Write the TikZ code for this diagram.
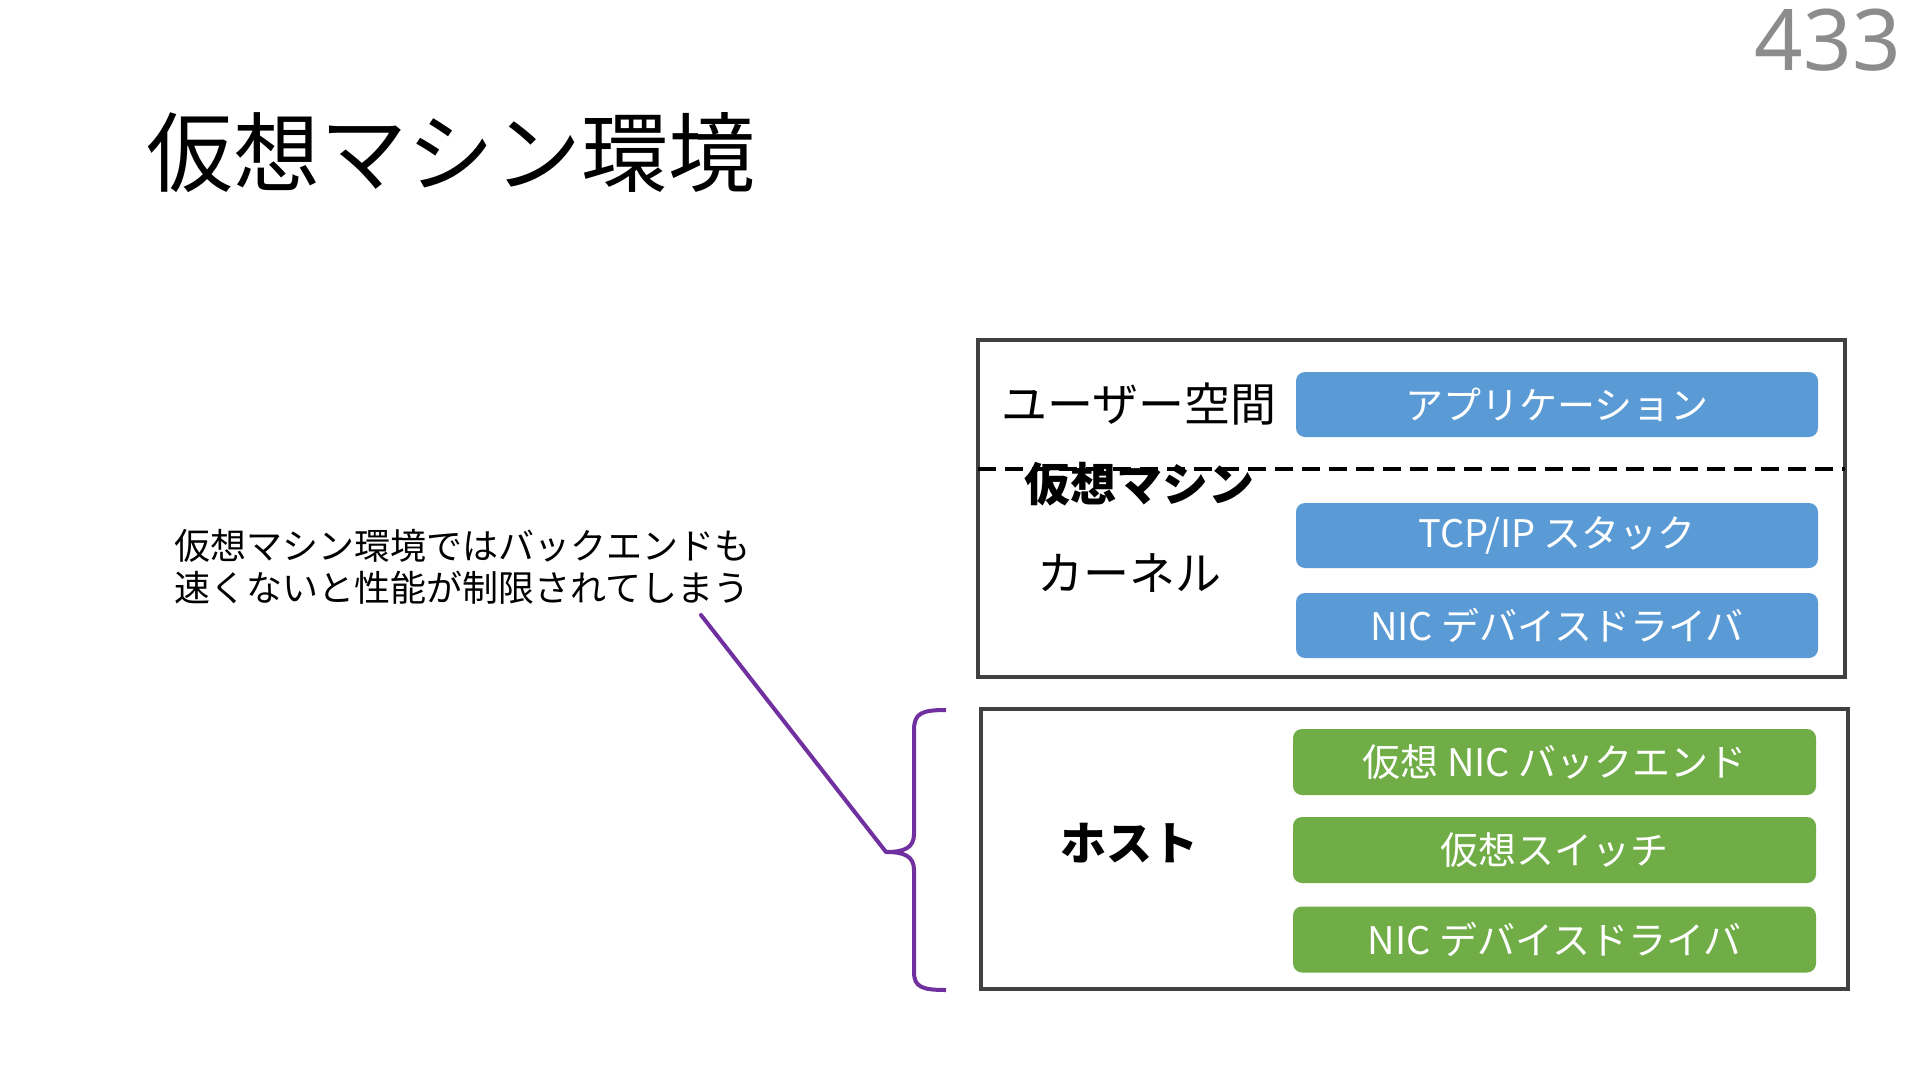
\documentclass[tikz,border=0pt]{standalone}
\usepackage{fontspec}
\setmainfont{Noto Sans CJK JP}
\newfontfamily\numfont{Noto Sans}
\definecolor{boxgray}{HTML}{404040}
\definecolor{bluebox}{HTML}{5B9BD5}
\definecolor{greenbox}{HTML}{70AD47}
\definecolor{purp}{HTML}{7030A0}
\definecolor{numgray}{HTML}{8C8C8C}
\tikzset{
  frame/.style={draw=boxgray, line width=4pt, inner sep=0pt},
  bluestep/.style={fill=bluebox, rounded corners=9pt, minimum width=522pt, minimum height=65pt, inner sep=0pt, text=white, font=\fontsize{38}{42}\selectfont},
  greenstep/.style={fill=greenbox, rounded corners=9pt, minimum width=523pt, minimum height=66pt, inner sep=0pt, text=white, font=\fontsize{38}{42}\selectfont},
  lbl/.style={inner sep=0pt, font=\fontsize{46}{52}\selectfont},
  blbl/.style={inner sep=0pt, font=\fontsize{46}{52}\selectfont\bfseries},
  purpline/.style={draw=purp, line width=4pt}
}
\begin{document}
\begin{tikzpicture}[x=1pt,y=-1pt]
\useasboundingbox (0,0) rectangle (1920,1080);
\fill[white] (0,0) rectangle (1920,1080);
% page number and title
\node[anchor=east, inner sep=0pt, text=numgray, font=\numfont\fontsize{85}{90}\selectfont] (num) at (1901,40) {433};
\node[anchor=west, inner sep=0pt, font=\fontsize{87}{92}\selectfont] (title) at (146,153) {仮想マシン環境};
% VM frame
\node[frame, minimum width=867pt, minimum height=337pt] (vm) at (1411.5,508.5) {};
\coordinate (dl) at (978,469);
\coordinate (dr) at (1845,469);
\draw[black, line width=4.5pt, dash pattern=on 18pt off 9pt] (dl) -- (dr);
\node[bluestep] (app) at (1557,404.5) {アプリケーション};
\node[bluestep] (tcp) at (1557,535.5) {TCP/IP スタック};
\node[bluestep] (nicvm) at (1557,625.5) {NIC デバイスドライバ};
\node[lbl] (user) at (1139,404) {ユーザー空間};
\node[blbl] (vmlbl) at (1139,484) {仮想マシン};
\node[lbl] (kern) at (1129,573) {カーネル};
% host frame
\node[frame, minimum width=867pt, minimum height=280pt] (host) at (1414.5,849) {};
\node[greenstep] (back) at (1554.5,762) {仮想 NIC バックエンド};
\node[greenstep] (sw) at (1554.5,850) {仮想スイッチ};
\node[greenstep] (nichost) at (1554.5,939.5) {NIC デバイスドライバ};
\node[blbl] (hostlbl) at (1129,843) {ホスト};
% annotation
\node[anchor=west, inner sep=0pt, align=left, font=\fontsize{36}{42}\selectfont] (ann) at (174,567) {仮想マシン環境ではバックエンドも\\速くないと性能が制限されてしまう};
\coordinate (lt) at (701,615);
\coordinate (cusp) at (886,852);
\coordinate (bt) at (946,710);
\coordinate (bb) at (946,990);
\draw[purpline, line cap=round] (lt) -- (cusp);
\draw[purpline] (bt) .. controls (922,710) and (914,713) .. (914,730) -- (914,834)
  .. controls (914,848) and (904,852) .. (cusp)
  .. controls (904,852) and (914,856) .. (914,870) -- (914,972)
  .. controls (914,987) and (922,990) .. (bb);
\end{tikzpicture}
\end{document}
